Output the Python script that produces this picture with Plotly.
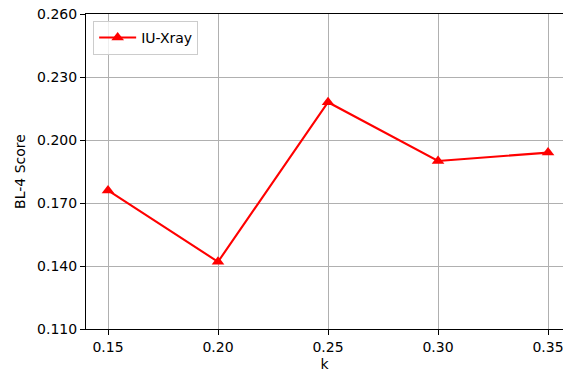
import plotly.graph_objects as go

k_values = [0.15, 0.20, 0.25, 0.30, 0.35]
bl4_scores = [0.176, 0.142, 0.218, 0.190, 0.194]
series_name = "IU-Xray"
x_ticks = [0.15, 0.20, 0.25, 0.30, 0.35]
x_tick_labels = ["0.15", "0.20", "0.25", "0.30", "0.35"]
y_ticks = [0.110, 0.140, 0.170, 0.200, 0.230, 0.260]
y_tick_labels = ["0.110", "0.140", "0.170", "0.200", "0.230", "0.260"]

FONT = "DejaVu Sans"

fig = go.Figure()
fig.add_trace(go.Scatter(
    x=k_values, y=bl4_scores, mode="lines+markers", name=series_name,
    line=dict(color="red", width=2.1),
    marker=dict(symbol="triangle-up", size=11, color="red"),
))

fig.update_layout(
    width=563, height=373,
    margin=dict(l=86, r=0, t=14, b=44),
    paper_bgcolor="white", plot_bgcolor="white",
    font=dict(family=FONT, size=14, color="black"),
    showlegend=True,
    legend=dict(
        x=0.015, y=0.978, xanchor="left", yanchor="top",
        bgcolor="rgba(255,255,255,0.8)", bordercolor="#cccccc", borderwidth=1,
        font=dict(family=FONT, size=14),
        itemwidth=37,
    ),
)
fig.update_xaxes(
    range=[0.14, 0.3568], tickvals=x_ticks, ticktext=x_tick_labels,
    showgrid=True, gridcolor="#b0b0b0", gridwidth=1.1,
    showline=True, linecolor="black", linewidth=1.1, mirror=True,
    ticks="outside", ticklen=5, tickwidth=1.1, tickcolor="black",
    ticklabeloverflow="allow",
    zeroline=False,
    title=dict(text="k", standoff=5, font=dict(family=FONT, size=14)),
    automargin=False,
)
fig.update_yaxes(
    range=[0.11, 0.26], tickvals=y_ticks, ticktext=y_tick_labels,
    showgrid=True, gridcolor="#b0b0b0", gridwidth=1.1,
    showline=True, linecolor="black", linewidth=1.1, mirror=False,
    ticks="outside", ticklen=5, tickwidth=1.1, tickcolor="black",
    zeroline=False,
    title=dict(text="BL-4 Score", standoff=8, font=dict(family=FONT, size=14)),
    automargin=False,
)

fig.write_html(
    "out.html",
    config={"displayModeBar": False},
    post_script="document.body.style.margin='0';document.body.style.overflow='hidden';",
)
